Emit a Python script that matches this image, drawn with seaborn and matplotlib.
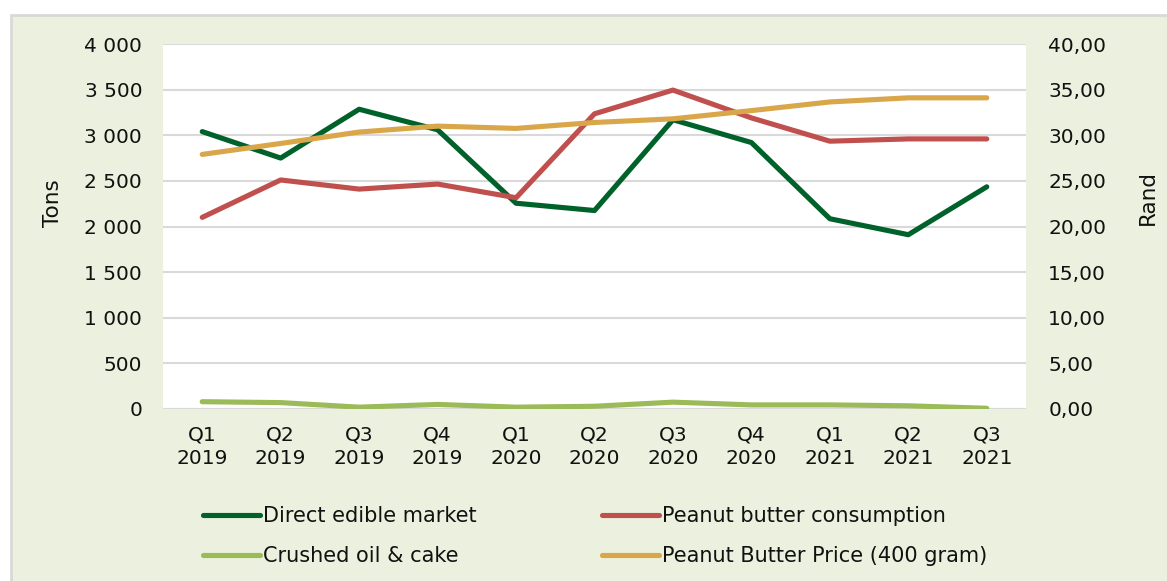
import numpy as np
import pandas as pd
import matplotlib
matplotlib.use("Agg")
import matplotlib.pyplot as plt
import matplotlib.ticker as mticker
from matplotlib.patches import Rectangle
import seaborn as sns

# quarters on the category axis
quarters = ["Q1\n2019", "Q2\n2019", "Q3\n2019", "Q4\n2019",
            "Q1\n2020", "Q2\n2020", "Q3\n2020", "Q4\n2020",
            "Q1\n2021", "Q2\n2021", "Q3\n2021"]

# tons (left axis)
direct_edible = [3040, 2750, 3285, 3060, 2255, 2175, 3170, 2920, 2085, 1910, 2435]
pb_consumption = [2100, 2510, 2410, 2465, 2315, 3235, 3495, 3190, 2935, 2960, 2960]
crushed_oil = [80, 70, 20, 50, 20, 30, 75, 45, 45, 35, 8]
# rand (right axis)
pb_price = [27.9, 29.1, 30.35, 31.0, 30.75, 31.4, 31.8, 32.7, 33.65, 34.1, 34.1]

labels = ["Direct edible market", "Peanut butter consumption",
          "Crushed oil & cake", "Peanut Butter Price (400 gram)"]
colors = ["#00622a", "#c0504d", "#9bbb59", "#d9a74a"]

sns.set_style("white")
plt.rcParams["font.family"] = ["DejaVu Sans"]
plt.rcParams["text.color"] = "#111111"
plt.rcParams["xtick.color"] = "#111111"
plt.rcParams["ytick.color"] = "#111111"

W, H = 1167, 581
fig = plt.figure(figsize=(W / 100, H / 100), dpi=100)
fig.patch.set_facecolor("white")
# pale green chart area with grey frame
bg = Rectangle((11 / W, -0.05), 1.1, 1 - 15 / H + 0.05,
               transform=fig.transFigure, facecolor="#ebf1de",
               edgecolor="#d9d9d9", lw=2, zorder=-10)
fig.add_artist(bg)

ax = fig.add_axes([163 / W, 1 - 409 / H, 863 / W, 365 / H])
ax.set_facecolor("white")
ax2 = ax.twinx()
ax2.patch.set_visible(False)

lw = 3.7
df = pd.DataFrame({"q": quarters, "de": direct_edible, "pb": pb_consumption,
                   "co": crushed_oil, "pr": pb_price})
sns.lineplot(data=df, x="q", y="de", ax=ax, color=colors[0], lw=lw,
             label=labels[0], solid_capstyle="round", sort=False)
sns.lineplot(data=df, x="q", y="pb", ax=ax, color=colors[1], lw=lw,
             label=labels[1], solid_capstyle="round", sort=False)
sns.lineplot(data=df, x="q", y="co", ax=ax, color=colors[2], lw=lw,
             label=labels[2], solid_capstyle="round", sort=False)
sns.lineplot(data=df, x="q", y="pr", ax=ax2, color=colors[3], lw=lw,
             label=labels[3], solid_capstyle="round", sort=False)

for a in (ax, ax2):
    if a.get_legend() is not None:
        a.get_legend().remove()
    for s in a.spines.values():
        s.set_visible(False)
    a.set_xlabel("")
    a.set_ylabel("")

ax.set_xlim(-0.5, len(quarters) - 0.5)
ax.set_ylim(0, 4000)
ax2.set_ylim(0, 40)
ax.set_yticks(np.arange(0, 4001, 500))
ax2.set_yticks(np.arange(0, 41, 5))
ax.yaxis.set_major_formatter(mticker.FuncFormatter(
    lambda v, p: f"{int(v):,}".replace(",", " ")))
ax2.yaxis.set_major_formatter(mticker.FuncFormatter(
    lambda v, p: f"{v:.2f}".replace(".", ",")))
ax.grid(axis="y", color="#d9d9d9", lw=1.5)
ax.set_axisbelow(True)
ax.axhline(0, color="#d9d9d9", lw=1.5, zorder=1)

ax.tick_params(axis="y", length=0, pad=15, labelsize=14.5)
ax.tick_params(axis="x", length=0, pad=12, labelsize=14.5)
ax2.tick_params(axis="y", length=0, pad=16, labelsize=14.5)
for t in ax.get_xticklabels():
    t.set_linespacing(1.3)

fig.text(53 / W, 1 - 203 / H, "Tons", rotation=90, ha="center", va="center",
         fontsize=15.5)
fig.text(1148 / W, 1 - 197 / H, "Rand", rotation=90, ha="center", va="center",
         fontsize=15.5)

h1, l1 = ax.get_legend_handles_labels()
h2, l2 = ax2.get_legend_handles_labels()
hd = dict(zip(l1 + l2, h1 + h2))
order = [labels[0], labels[2], labels[1], labels[3]]
fig.legend([hd[k] for k in order], order, ncol=2, loc="upper left",
           bbox_to_anchor=(203 / W, 1 - 506 / H), frameon=False,
           fontsize=15, handlelength=2.75, handletextpad=0.15,
           columnspacing=6.0, labelspacing=0.95, borderpad=0,
           borderaxespad=0)

fig.savefig("out.png", dpi=100)
